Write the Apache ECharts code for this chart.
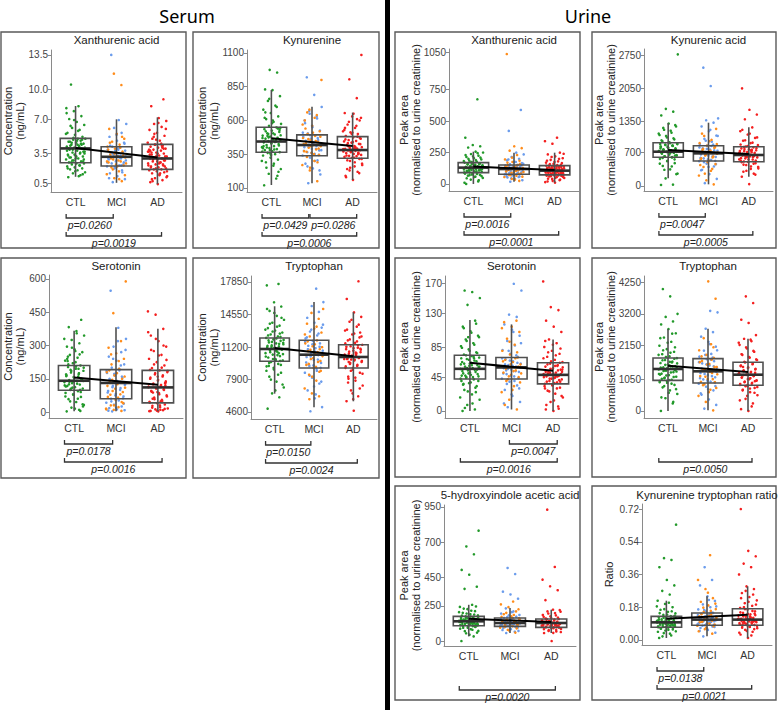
<!DOCTYPE html>
<html><head><meta charset="utf-8">
<script src="https://cdn.jsdelivr.net/npm/echarts@6/dist/echarts.min.js"></script>
<style>html,body{margin:0;padding:0;background:#fff}#c{width:778px;height:710px}</style>
</head><body><div id="c"></div>
<script>
const groups = ['CTL', 'MCI', 'AD'];

// ---------- Serum: Xanthurenic acid ----------
const sXanTicks = [0.5, 3.5, 7.0, 10.0, 13.5];
const sXanCTL = [1.1,1.3,1.5,1.6,1.8,1.9,2.0,2.1,2.2,2.3,2.4,2.5,2.5,2.6,2.7,2.8,2.9,3.0,3.1,3.2,3.3,3.4,3.5,3.6,3.7,3.8,3.9,4.0,4.1,4.2,4.3,4.4,4.5,4.6,4.7,4.8,4.9,5.0,5.0,4.3,5.2,5.4,5.6,5.9,6.1,6.4,6.7,7.0,7.3,7.8,8.1,8.3,10.5,2.7,3.0,3.3,3.6,3.9,4.1,4.4,4.7,4.9,3.4,3.8,4.2,4.6,2.9,3.2,4.0,4.5,5.1,5.5,5.8,6.3,1.4,1.7,2.0,2.3,2.8,3.5,4.8,3.1,4.4,6.9,7.6,1.2,2.6,3.7];
const sXanMCIb = [0.6,0.9,1.2,1.5,1.8,2.0,2.2,2.3,2.5,2.6,2.8,2.9,3.0,3.1,3.2,3.3,3.5,3.6,3.8,3.9,4.1,4.2,4.5,4.8,5.2,5.6,6.1,6.5,6.9,13.5,2.4,2.7,3.0,3.3,3.5,3.8,4.0,4.3,1.6,2.1,2.6,3.1,3.6,4.6,5.4,1.0,2.3,3.4,2.8,3.9];
const sXanMCIo = [0.7,1.0,1.4,1.7,2.1,2.3,2.4,2.6,2.7,2.9,3.1,3.2,3.4,3.7,4.0,4.2,4.4,4.7,5.0,5.5,6.0,10.45,11.6,2.5,2.8,3.0,3.3,3.6,3.9,4.1,1.9,1.3,2.2,4.6,5.2,3.5,2.7,0.9];
const sXanAD = [0.4,0.6,0.8,1.0,1.2,1.4,1.5,1.6,1.7,1.8,1.9,1.9,2.0,2.1,2.2,2.3,2.4,2.5,2.6,2.7,2.8,2.9,3.0,3.0,3.1,3.2,3.3,3.4,3.5,3.6,3.7,3.8,3.9,4.0,4.1,4.2,4.3,4.4,4.6,4.8,5.0,5.3,5.6,5.9,6.2,6.5,6.8,7.1,8.3,9.0,2.0,2.3,2.6,2.9,3.2,3.5,3.8,4.1,4.4,1.7,1.3,0.9,2.8,3.3,3.9,4.5,5.2,6.0,6.6,2.1,2.4,3.1,3.7,1.5,0.7,2.2,2.7,3.4,4.3,5.5,1.1,2.5,3.6,4.0,4.9];
const sXanBox = [[1.14,2.56,4.02,5.04,8.32],[0.53,2.23,3.17,4.19,6.97],[0.4,1.89,3.0,4.43,7.17]];
const sXanTrend = [4.05, 3.1];
const sXanP = [[1,2,'p=0.0260',0],[1,3,'p=0.0019',1]];

// ---------- Serum: Kynurenine ----------
const sKynTicks = [100, 350, 600, 850, 1100];
const sKynCTL = [120,170,205,240,265,290,310,325,340,350,360,365,372,380,388,395,402,410,418,425,432,438,443,447,452,458,465,472,480,488,496,505,515,525,535,548,560,575,590,610,630,655,680,710,745,780,825,830,955,975,370,385,400,415,430,445,460,475,490,505,520,540,355,395,440,485,530,580,620,700,760,300,280,250,220,345,410,455,500,545,600,660,190,380,470];
const sKynMCIb = [135,200,245,280,305,325,340,352,365,378,390,402,412,420,428,437,446,455,465,478,490,505,525,550,580,615,650,700,790,920,345,360,375,390,405,420,435,450,470,490,510,300,260,230,560,600,630,670,380,440];
const sKynMCIo = [150,230,270,300,330,345,360,372,385,398,410,418,430,442,455,470,485,500,520,560,600,640,680,900,350,368,392,408,425,448,462,480,510,540,290,250,570,620,660];
const sKynAD = [160,190,220,250,270,290,305,315,322,330,335,338,345,352,358,362,365,370,375,378,380,384,390,392,396,402,410,418,427,436,445,448,455,465,475,485,500,512,520,545,570,600,630,655,765,905,1085,325,340,355,368,382,395,410,425,440,460,480,300,280,260,240,210,500,530,560,590,620,650,180,350,372,388,405,432,470,510,545,610,230,315,395];
const sKynBox = [[122,364,444,550,826],[135,339,418,493,702],[159,320,381,480,658]];
const sKynTrend = [468, 411];
const sKynP = [[1,2,'p=0.0429',0],[2,3,'p=0.0286',0],[1,3,'p=0.0006',1]];

// ---------- Serum: Serotonin ----------
const sSerTicks = [0, 150, 300, 450, 600];
const sSerCTL = [3,10,20,32,45,58,68,78,86,94,100,106,112,118,124,130,135,140,144,150,156,162,170,178,186,195,203,210,220,232,245,258,270,282,295,310,325,345,365,383,416,138,115,160,190,25,275,230,100,110,120,128,136,145,152,165,175,185,200,205,215,90,80,70,60,48,35,15,240,260,290,330,355,125,147,158,170,195,105,140,225,250,5];
const sSerMCIb = [3,8,12,18,25,33,42,52,60,70,82,95,108,118,128,135,145,155,165,176,188,200,215,232,250,270,295,330,380,547,62,75,88,100,112,122,140,150,160,172,185,195,48,38,20,6,210,240,280,320];
const sSerMCIo = [5,10,15,22,30,40,55,68,80,95,110,125,140,150,165,180,195,215,240,265,290,320,446,589,65,78,90,105,118,132,145,160,175,188,45,30,12,230,260];
const sSerAD = [3,5,8,12,16,22,28,34,40,46,55,65,75,85,95,102,108,112,118,125,133,142,150,160,170,180,188,198,210,225,240,258,275,295,320,345,375,439,454,10,60,130,90,42,50,58,70,80,92,100,106,115,122,128,138,145,155,165,175,185,30,20,14,6,4,200,215,235,255,280,300,330,360,48,88,120,160,190];
const sSerBox = [[3,98,141,210,367],[3,60,131,191,382],[3,41,111,188,376]];
const sSerTrend = [156, 123];
const sSerP = [[1,2,'p=0.0178',0],[1,3,'p=0.0016',1]];

// ---------- Serum: Tryptophan ----------
const sTrpTicks = [4600, 7900, 11200, 14550, 17850];
const sTrpCTL = [4940,6100,6500,7100,7700,8200,8600,8950,9250,9500,9700,9850,10000,10150,10300,10450,10600,10750,10900,11000,11100,11200,11300,11400,11500,11600,11700,11850,12000,12150,12300,12500,12700,12900,13150,13400,13700,14000,14400,14900,15350,15780,17510,17650,11050,10500,9900,11900,9800,10000,10250,10400,10700,10950,11150,11350,11550,11750,11950,12100,9600,9400,9100,8800,8400,7900,7400,6800,12400,12600,12800,13000,13300,13600,14200,14700,15100,10600,11250,11650,10850,9300,12250];
const sTrpMCIb = [4670,5100,6000,6800,7500,8100,8600,9000,9300,9600,9900,10200,10400,10600,10850,11100,11350,11600,11850,12100,12400,12800,13200,13700,14200,14800,15400,15800,17170,9450,9100,9350,9650,9950,10250,10500,10750,11000,11250,11500,11750,8800,8300,7700,7200,12200,12600,13000,13500,6400];
const sTrpMCIo = [6200,6500,7000,7800,8400,8800,9100,9400,9700,10000,10300,10500,10800,11000,11300,11600,11900,12300,12700,13100,13600,14100,14700,15100,9200,9500,9800,10100,10400,10700,10950,11200,11500,11800,8700,8200,12500,13300,5900];
const sTrpAD = [4730,5700,6200,6800,7300,7800,8200,8600,8900,9100,9300,9500,9700,9850,10000,10100,10200,10300,10400,10550,10700,10850,11000,11150,11300,11450,11650,11900,12200,12500,12900,13300,13800,14300,14750,16120,17920,9950,10250,10650,8000,12700,9100,9250,9400,9600,9800,9950,10050,10150,10350,10450,10600,10750,10950,11100,11250,11400,8800,8500,8100,7600,7000,6500,11600,11800,12000,12300,12600,13000,13500,14000,10000,10500,9700,11050,5900];
const sTrpBox = [[6468,9768,11022,12143,15375],[5079,9085,10441,11908,15813],[5690,9085,10206,11461,14763]];
const sTrpTrend = [11124, 10278];
const sTrpP = [[1,2,'p=0.0150',0],[1,3,'p=0.0024',1]];

// ---------- Urine: Xanthurenic acid ----------
const uXanTicks = [0, 250, 500, 750, 1050];
const uXanCTL = [0,20,35,48,58,66,72,78,83,88,92,96,100,104,108,112,116,120,124,128,132,136,140,144,148,152,156,160,165,170,178,186,195,205,215,225,238,250,257,290,300,310,368,674,130,118,142,98,160,75,92,100,108,115,122,128,134,140,146,152,158,165,170,85,80,70,62,55,45,30,175,182,190,200,210,220,230,245,120,135,150,95,110,160,10];
const uXanMCIb = [18,30,42,52,60,68,75,80,86,92,98,104,110,116,121,126,131,136,141,146,151,158,166,176,188,200,215,235,249,422,589,78,84,90,96,102,108,114,120,126,132,138,144,150,70,62,55,45,160,175,195];
const uXanMCIo = [25,40,55,65,72,82,90,100,110,120,128,138,148,160,175,195,230,265,285,300,1034,80,88,96,104,112,120,130,140,150,70,58,35,170,185,210];
const uXanAD = [11,20,30,40,48,55,60,65,70,74,78,82,86,90,94,98,102,106,110,114,118,122,126,130,134,138,142,146,152,160,170,180,192,205,220,235,249,320,340,368,100,88,116,66,140,124,72,76,80,84,88,92,96,100,104,108,112,116,120,124,128,132,136,140,145,68,62,56,50,42,35,25,15,150,158,166,175,185,200,215,240];
const uXanBox = [[0,90,130,170,257],[18,77,119,151,249],[11,72,106,146,249]];
const uXanTrend = [138, 111];
const uXanP = [[1,2,'p=0.0016',0],[1,3,'p=0.0001',1]];

// ---------- Urine: Kynurenic acid ----------
const uKynaTicks = [0, 700, 1350, 2050, 2750];
const uKynaCTL = [21,30,160,260,350,420,480,530,570,600,625,650,670,690,705,720,735,750,770,790,810,830,850,870,890,910,940,980,1020,1070,1120,1180,1250,1310,1480,1560,1620,2764,700,760,640,820,880,605,620,640,660,680,700,715,730,745,760,780,800,820,840,860,880,900,590,560,520,470,410,340,250,920,960,1000,1050,1100,1160,1220,1280,710,790,850];
const uKynaMCIb = [60,150,250,340,410,470,520,550,580,610,640,665,690,715,740,765,790,820,845,880,930,990,1060,1150,1250,1330,1380,1420,2099,2484,530,560,590,620,650,680,700,720,750,780,810,840,500,460,400,330,870,950,1050,1180];
const uKynaMCIo = [35,120,220,320,400,460,510,560,600,640,680,720,760,800,850,900,970,1050,1200,540,580,620,660,700,740,780,820,500,440,360,260,880,940,1100];
const uKynaAD = [40,195,260,320,370,410,450,480,505,530,555,580,600,620,640,655,670,690,710,730,750,770,790,810,830,860,900,950,1010,1080,1150,1230,1400,1500,1600,2050,630,680,560,740,515,535,560,585,605,625,645,660,675,695,715,735,755,775,795,815,500,470,440,400,360,300,240,840,870,910,960,1020,1100,1180,650,610,700,760,820];
const uKynaBox = [[161,602,720,909,1316],[35,525,685,846,1329],[195,510,651,825,1232]];
const uKynaTrend = [756, 672];
const uKynaP = [[1,2,'p=0.0047',0],[1,3,'p=0.0005',1]];

// ---------- Urine: Serotonin ----------
const uSerTicks = [0, 45, 85, 130, 170];
const uSerCTL = [0,2,8,15,22,28,33,37,40,42,44,46,48,50,52,54,56,57,59,61,63,65,67,69,71,73,75,78,82,86,90,95,100,106,112,120,141,150,158,160,55,60,47,70,45,58,64,36,25,98,43,45,47,49,51,53,55,57,59,61,63,66,68,70,72,74,40,38,35,31,26,18,10,4,77,80,84,88,93,98,104,110,116,50,62];
const uSerMCIb = [5,12,20,28,34,39,43,46,49,52,55,57,59,61,63,66,69,72,76,81,87,93,100,108,115,125,128,160,169,54,44,47,50,53,56,58,60,62,64,67,70,40,36,30,22,10,74,80,90,105];
const uSerMCIo = [2,15,25,33,40,45,48,51,54,58,62,65,68,71,75,80,88,96,105,112,118,120,46,50,53,56,59,62,66,70,42,38,28,8,78,92,110];
const uSerAD = [0,2,6,12,18,23,27,31,34,36,38,40,42,44,46,47,48,49,51,53,55,57,59,61,63,65,68,72,76,80,85,90,95,105,112,120,134,138,172,45,50,39,56,30,60,43,52,37,39,41,43,45,47,48,49,50,52,54,56,58,60,62,64,35,33,30,26,20,14,8,3,66,70,74,78,83,88,93,46,51,55,44];
const uSerBox = [[0,42.5,56,74,121],[2,42.5,58,71,115],[0,36,48,64,95]];
const uSerTrend = [64, 53.5];
const uSerP = [[2,3,'p=0.0047',0],[1,3,'p=0.0016',1]];

// ---------- Urine: Tryptophan ----------
const uTrpTicks = [0, 1050, 2150, 3200, 4250];
const uTrpCTL = [0,250,420,560,680,780,860,930,990,1030,1080,1130,1180,1230,1280,1330,1370,1400,1440,1480,1530,1580,1630,1680,1740,1800,1870,1950,2040,2150,2280,2420,2560,2700,2850,2950,3100,3200,3778,4019,1350,1420,1200,1600,1100,1300,1020,1060,1120,1170,1220,1270,1320,1360,1390,1430,1470,1520,1570,1620,1670,1720,980,950,900,820,720,600,450,300,1780,1850,1920,2000,2100,2250,2400,2550,1340,1410,1500];
const uTrpMCIb = [80,200,380,540,680,800,900,970,1040,1110,1180,1250,1310,1370,1430,1500,1570,1640,1710,1790,1880,1990,2120,2280,2450,2600,2710,3250,3300,1350,940,1000,1080,1150,1220,1290,1340,1400,1470,1540,1610,1690,880,820,720,580,1760,1850,2000,2200];
const uTrpMCIo = [22,300,500,700,850,950,1050,1150,1250,1350,1450,1550,1650,1750,1850,2000,2200,2400,3700,4272,960,1050,1130,1210,1290,1370,1450,1530,1610,1690,880,760,620,1800,2100];
const uTrpAD = [0,60,250,400,520,620,700,760,820,860,900,950,1000,1050,1100,1150,1190,1230,1270,1320,1370,1420,1480,1540,1600,1680,1760,1850,1950,2060,2180,2300,2380,2500,2900,3008,3558,3778,1210,1080,1450,980,860,890,930,970,1010,1060,1110,1160,1200,1240,1290,1340,1390,1440,1500,1560,820,790,740,680,600,500,350,150,1620,1700,1780,1870,1980,2100,2250,2350,1180,1260,1050];
const uTrpBox = [[0,1010,1384,1746,2701],[22,922,1307,1724,2712],[0,846,1196,1604,2383]];
const uTrpTrend = [1493, 1285];
const uTrpP = [[1,3,'p=0.0050',1]];

// ---------- Urine: 5-hydroxyindole acetic acid ----------
const uHiaaTicks = [0, 250, 450, 700, 950];
const uHiaaCTL = [0,33,55,72,84,94,102,108,113,118,122,126,130,134,138,141,144,148,152,156,160,165,170,175,182,190,200,212,226,242,257,370,385,470,504,615,670,782,128,150,115,162,136,105,145,110,115,120,125,130,135,140,143,147,151,155,160,165,170,174,105,100,95,88,80,70,60,45,180,188,195,205,215,230,245,138,145,128,152,118];
const uHiaaMCIb = [57,72,84,93,100,106,111,116,121,126,131,136,141,147,153,159,165,173,182,195,210,232,300,330,350,475,518,125,118,138,105,110,115,120,124,128,132,137,142,148,155,162,100,95,88,78,66,170,185,205];
const uHiaaMCIo = [60,80,95,105,112,120,128,135,143,152,162,175,190,210,240,260,280,108,116,124,132,140,148,157,165,100,90,75,172,185,200,225];
const uHiaaAD = [0,57,68,78,86,92,97,101,105,109,113,117,121,125,129,133,137,141,146,151,156,163,172,182,195,208,222,290,360,388,435,525,931,120,110,135,100,140,127,98,102,106,110,114,118,122,126,130,134,138,142,147,152,156,95,90,85,80,72,64,58,160,166,175,185,198,210,220,124,132,112,140,108,128];
const uHiaaBox = [[33,109,140,175,257],[57,104,128,163,234],[57,97,128,156,222]];
const uHiaaTrend = [158, 135];
const uHiaaP = [[1,3,'p=0.0020',1]];

// ---------- Urine: Kynurenine tryptophan ratio ----------
const uKtrTicks = [0, 0.18, 0.36, 0.54, 0.72];
const uKtrCTL = [0.011,0.025,0.038,0.048,0.056,0.062,0.067,0.071,0.075,0.079,0.083,0.087,0.091,0.095,0.098,0.101,0.105,0.109,0.113,0.117,0.121,0.126,0.131,0.138,0.146,0.155,0.166,0.180,0.198,0.216,0.25,0.27,0.30,0.33,0.40,0.44,0.45,0.634,0.090,0.100,0.080,0.115,0.070,0.093,0.072,0.076,0.080,0.084,0.088,0.092,0.096,0.099,0.102,0.106,0.110,0.114,0.118,0.122,0.127,0.068,0.064,0.058,0.052,0.045,0.035,0.020,0.133,0.140,0.148,0.158,0.170,0.185,0.205,0.097,0.103,0.089,0.111,0.078,0.094];
const uKtrMCIb = [0.020,0.040,0.055,0.066,0.074,0.081,0.087,0.093,0.098,0.103,0.108,0.113,0.118,0.123,0.129,0.135,0.142,0.149,0.158,0.168,0.180,0.196,0.215,0.240,0.30,0.33,0.40,0.110,0.100,0.125,0.083,0.088,0.094,0.099,0.104,0.109,0.114,0.119,0.124,0.130,0.137,0.145,0.078,0.072,0.063,0.050,0.152,0.165,0.185,0.220];
const uKtrMCIo = [0.035,0.060,0.078,0.090,0.100,0.110,0.120,0.130,0.140,0.155,0.170,0.190,0.210,0.230,0.28,0.33,0.466,0.105,0.085,0.092,0.098,0.106,0.114,0.122,0.132,0.142,0.076,0.068,0.048,0.160,0.178,0.200,0.260];
const uKtrAD = [0.011,0.030,0.045,0.056,0.065,0.072,0.078,0.083,0.088,0.093,0.098,0.103,0.108,0.112,0.117,0.122,0.128,0.134,0.141,0.149,0.158,0.167,0.176,0.188,0.202,0.218,0.236,0.258,0.280,0.295,0.36,0.40,0.42,0.46,0.49,0.72,0.100,0.090,0.115,0.130,0.085,0.145,0.082,0.086,0.090,0.094,0.098,0.102,0.106,0.110,0.114,0.118,0.124,0.130,0.137,0.144,0.152,0.160,0.170,0.078,0.074,0.068,0.060,0.050,0.040,0.025,0.180,0.195,0.210,0.230,0.250,0.270,0.112,0.120,0.096,0.104,0.140];
const uKtrBox = [[0.011,0.070,0.097,0.130,0.216],[0.020,0.081,0.112,0.148,0.240],[0.011,0.081,0.112,0.172,0.295]];
const uKtrTrend = [0.117, 0.139];
const uKtrP = [[1,2,'p=0.0138',0],[1,3,'p=0.0021',1]];

const SERUM_NAME = 'Concentration\n(ng/mL)';
const URINE_NAME = 'Peak area\n(normalised to urine creatinine)';

const panels = [
  {title:'Xanthurenic acid', yName:SERUM_NAME, ticks:sXanTicks, dec:1, ctl:sXanCTL, mb:sXanMCIb, mo:sXanMCIo, ad:sXanAD, box:sXanBox, trend:sXanTrend, br:sXanP},
  {title:'Kynurenine', yName:SERUM_NAME, ticks:sKynTicks, dec:0, ctl:sKynCTL, mb:sKynMCIb, mo:sKynMCIo, ad:sKynAD, box:sKynBox, trend:sKynTrend, br:sKynP},
  {title:'Serotonin', yName:SERUM_NAME, ticks:sSerTicks, dec:0, ctl:sSerCTL, mb:sSerMCIb, mo:sSerMCIo, ad:sSerAD, box:sSerBox, trend:sSerTrend, br:sSerP},
  {title:'Tryptophan', yName:SERUM_NAME, ticks:sTrpTicks, dec:0, ctl:sTrpCTL, mb:sTrpMCIb, mo:sTrpMCIo, ad:sTrpAD, box:sTrpBox, trend:sTrpTrend, br:sTrpP},
  {title:'Xanthurenic acid', yName:URINE_NAME, ticks:uXanTicks, dec:0, ctl:uXanCTL, mb:uXanMCIb, mo:uXanMCIo, ad:uXanAD, box:uXanBox, trend:uXanTrend, br:uXanP},
  {title:'Kynurenic acid', yName:URINE_NAME, ticks:uKynaTicks, dec:0, ctl:uKynaCTL, mb:uKynaMCIb, mo:uKynaMCIo, ad:uKynaAD, box:uKynaBox, trend:uKynaTrend, br:uKynaP},
  {title:'Serotonin', yName:URINE_NAME, ticks:uSerTicks, dec:0, ctl:uSerCTL, mb:uSerMCIb, mo:uSerMCIo, ad:uSerAD, box:uSerBox, trend:uSerTrend, br:uSerP},
  {title:'Tryptophan', yName:URINE_NAME, ticks:uTrpTicks, dec:0, ctl:uTrpCTL, mb:uTrpMCIb, mo:uTrpMCIo, ad:uTrpAD, box:uTrpBox, trend:uTrpTrend, br:uTrpP},
  {title:'5-hydroxyindole acetic acid', yName:URINE_NAME, ticks:uHiaaTicks, dec:0, ctl:uHiaaCTL, mb:uHiaaMCIb, mo:uHiaaMCIo, ad:uHiaaAD, box:uHiaaBox, trend:uHiaaTrend, br:uHiaaP},
  {title:'Kynurenine tryptophan ratio', yName:'Ratio', ticks:uKtrTicks, dec:2, ctl:uKtrCTL, mb:uKtrMCIb, mo:uKtrMCIo, ad:uKtrAD, box:uKtrBox, trend:uKtrTrend, br:uKtrP}
];

// layout (pixels): panel border, grid rect, y range, y-name centre x
const layout = [
  {border:[1,32,185,216],  grid:[51,50,131,142],  y:[-0.4,14.0],     nameX:14},
  {border:[193,32,186,216],grid:[247,50,130,142], y:[70,1122],        nameX:207.5},
  {border:[1,258,185,220], grid:[49,275,134,143], y:[-27,618],        nameX:14},
  {border:[193,258,186,220],grid:[251,276,126,143],y:[3886,18461],    nameX:207.5},
  {border:[395,32,185,216],grid:[449,49,130,142], y:[-56,1074],       nameX:409.5},
  {border:[592,32,184,216],grid:[644,49,129,142], y:[-105,2876],      nameX:604.5},
  {border:[395,258,185,219],grid:[445,276,133,142],y:[-9.3,179.3],    nameX:409.5},
  {border:[592,258,184,219],grid:[644,276,128,142],y:[-231,4448],     nameX:604.5},
  {border:[395,486,185,214],grid:[444,505,132,141],y:[-35,964],       nameX:409.5},
  {border:[592,486,184,214],grid:[642,504,130,141],y:[-0.0275,0.7475],nameX:609}
];

const COLORS = {ctl:'#22992a', mb:'#6b9cec', mo:'#ff8c1a', ad:'#f41f1f'};
const FONT = 'Liberation Sans, Arial, sans-serif';

function renderBox(params, api) {
  const x = api.value(0);
  const lo = api.coord([x, api.value(1)]);
  const q1 = api.coord([x, api.value(2)]);
  const md = api.coord([x, api.value(3)]);
  const q3 = api.coord([x, api.value(4)]);
  const hi = api.coord([x, api.value(5)]);
  const half = api.size([0.75, 0])[0] / 2;
  return {type:'group', children:[
    {type:'line', shape:{x1:lo[0], y1:lo[1], x2:hi[0], y2:hi[1]}, style:{stroke:'#505050', lineWidth:1.6}},
    {type:'rect', shape:{x:q3[0]-half, y:q3[1], width:2*half, height:q1[1]-q3[1]}, style:{fill:'none', stroke:'#505050', lineWidth:1.6}},
    {type:'line', shape:{x1:md[0]-half, y1:md[1], x2:md[0]+half, y2:md[1]}, style:{stroke:'#303030', lineWidth:2.6}}
  ]};
}

function jitter(vals, g, seed) {
  return vals.map((v, i) => [g + ((((i * 0.618034) + seed) % 1) - 0.5) * 0.48, v]);
}

const grids = [], xAxes = [], yAxes = [], series = [], graphics = [];

panels.forEach((p, k) => {
  const L = layout[k];
  const [gl, gt, gw, gh] = L.grid;
  grids.push({left:gl, top:gt, width:gw, height:gh, containLabel:false});
  xAxes.push({
    gridIndex:k, type:'value', min:0.4, max:3.6,
    axisLine:{show:true, onZero:false, lineStyle:{color:'#8a8a8a', width:1}},
    axisTick:{show:false},
    splitLine:{show:false},
    axisLabel:{customValues:[1,2,3], formatter:v => groups[Math.round(v)-1], fontFamily:FONT, fontSize:10.5, color:'#333', margin:4}
  });
  yAxes.push({
    gridIndex:k, type:'value', min:L.y[0], max:L.y[1],
    axisLine:{show:true, onZero:false, lineStyle:{color:'#8a8a8a', width:1}},
    axisTick:{show:true, customValues:p.ticks, length:3, lineStyle:{color:'#8a8a8a'}},
    splitLine:{show:false},
    axisLabel:{customValues:p.ticks, formatter:v => Number(v).toFixed(p.dec), fontFamily:FONT, fontSize:10, color:'#444', margin:3}
  });
  const sc = (vals, g, seed, color) => ({
    type:'scatter', xAxisIndex:k, yAxisIndex:k, data:jitter(vals, g, seed),
    symbol:'circle', symbolSize:2.6, itemStyle:{color:color, opacity:1}, silent:true, z:2
  });
  series.push(sc(p.ctl, 1, 0.13, COLORS.ctl));
  series.push(sc(p.mb, 2, 0.31, COLORS.mb));
  series.push(sc(p.mo, 2, 0.77, COLORS.mo));
  series.push(sc(p.ad, 3, 0.52, COLORS.ad));
  series.push({type:'custom', xAxisIndex:k, yAxisIndex:k, renderItem:renderBox,
    data:p.box.map((b, i) => [i+1].concat(b)), encode:{x:0, y:[1,2,3,4,5]}, silent:true, z:4});
  series.push({type:'line', xAxisIndex:k, yAxisIndex:k, data:[[1, p.trend[0]], [3, p.trend[1]]],
    symbol:'none', lineStyle:{color:'#000', width:2}, silent:true, z:5});

  graphics.push({type:'rect', shape:{x:L.border[0], y:L.border[1], width:L.border[2], height:L.border[3]},
    style:{fill:'none', stroke:'#5a5a5a', lineWidth:1.4}, silent:true});
  graphics.push({type:'text', x:gl + gw/2, y:(k===8||k===9) ? L.border[1]+9 : L.border[1]+8,
    style:{text:p.title, font:'11.5px ' + FONT, fill:'#1a1a1a', textAlign:'center', textVerticalAlign:'middle'}});
  graphics.push({type:'text', x:L.nameX, y:gt + gh/2, rotation:Math.PI/2,
    style:{text:p.yName, font:'11px ' + FONT, fill:'#222', textAlign:'center', textVerticalAlign:'middle', lineHeight:12}});
});

graphics.push({type:'text', x:187, y:16, style:{text:'Serum', font:'18px "Noto Sans", sans-serif', fill:'#000', textAlign:'center', textVerticalAlign:'middle'}});
graphics.push({type:'text', x:588, y:16, style:{text:'Urine', font:'18px "Noto Sans", sans-serif', fill:'#000', textAlign:'center', textVerticalAlign:'middle'}});
graphics.push({type:'rect', shape:{x:385, y:0, width:5, height:710}, style:{fill:'#000'}, silent:true});

const chart = echarts.init(document.getElementById('c'), null, {renderer:'svg', width:778, height:710});
chart.setOption({
  animation:false,
  backgroundColor:'#fff',
  grid:grids, xAxis:xAxes, yAxis:yAxes, series:series,
  graphic:{elements:graphics}
});

const brEls = [];
panels.forEach((p, k) => {
  const L = layout[k];
  const axisY = L.grid[1] + L.grid[3];
  p.br.forEach(([a, b, label, row]) => {
    const xa = chart.convertToPixel({xAxisIndex:k}, a + (a === 1 ? -0.23 : -0.05));
    const xb = chart.convertToPixel({xAxisIndex:k}, b + (b === 2 ? -0.08 : 0.1));
    const y = axisY + (row === 0 ? 26 : 44);
    brEls.push({type:'polyline', shape:{points:[[xa, y-4],[xa, y],[xb, y],[xb, y-4]]},
      style:{stroke:'#333', lineWidth:1.3, fill:'none'}, silent:true});
    brEls.push({type:'text', x:(xa + xb)/2, y:y + 7,
      style:{text:label, font:'italic 10.5px ' + FONT, fill:'#222', textAlign:'center', textVerticalAlign:'middle'}});
  });
});
chart.setOption({graphic:{elements:graphics.concat(brEls)}});
</script></body></html>
